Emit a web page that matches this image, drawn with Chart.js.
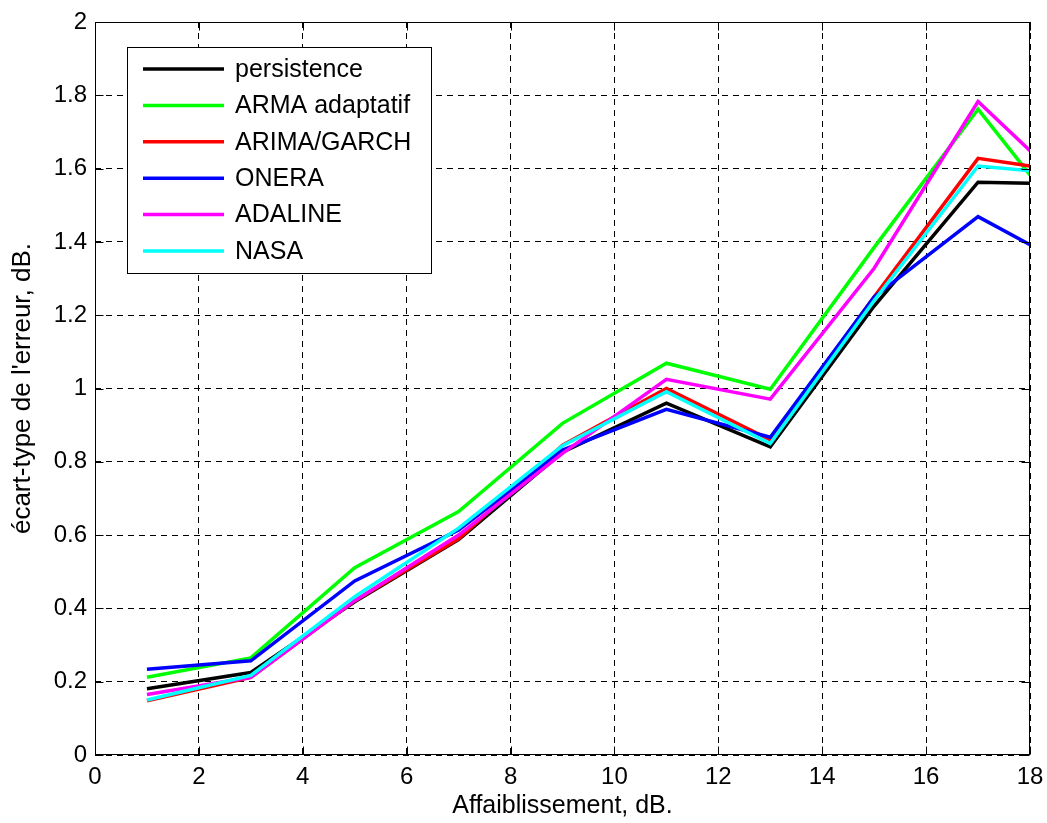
<!DOCTYPE html>
<html>
<head>
<meta charset="utf-8">
<script src="https://cdn.jsdelivr.net/npm/chart.js@4.4.0/dist/chart.umd.min.js"></script>
<style>
  html, body { margin: 0; padding: 0; background: #fff; }
  canvas { display: block; }
</style>
</head>
<body>
<canvas id="myChart" width="1047" height="823"></canvas>
<script>
// data
const xValues = [1, 3, 5, 7, 9, 11, 13, 15, 17, 18];
const persistence = [0.181, 0.225, 0.418, 0.588, 0.826, 0.960, 0.841, 1.225, 1.563, 1.560];
const armaAdaptatif = [0.212, 0.265, 0.511, 0.664, 0.905, 1.069, 0.998, 1.385, 1.762, 1.583];
const arimaGarch = [0.148, 0.212, 0.421, 0.590, 0.845, 1.000, 0.860, 1.250, 1.628, 1.607];
const onera = [0.234, 0.257, 0.475, 0.614, 0.832, 0.943, 0.867, 1.250, 1.469, 1.392];
const adaline = [0.165, 0.212, 0.421, 0.600, 0.823, 1.025, 0.971, 1.328, 1.783, 1.649];
const nasa = [0.150, 0.217, 0.432, 0.619, 0.844, 0.991, 0.850, 1.240, 1.607, 1.594];

const seriesNames = ["persistence", "ARMA adaptatif", "ARIMA/GARCH", "ONERA", "ADALINE", "NASA"];
const seriesData = [persistence, armaAdaptatif, arimaGarch, onera, adaline, nasa];
const lineColors = ["#000000", "#00ff00", "#ff0000", "#0000ff", "#ff00ff", "#00ffff"];

const xTicks = [0, 2, 4, 6, 8, 10, 12, 14, 16, 18];
const yTicks = [0, 0.2, 0.4, 0.6, 0.8, 1, 1.2, 1.4, 1.6, 1.8, 2];

const FONT = "'Liberation Sans', Arial, Helvetica, sans-serif";

// frame, inward ticks and the boxed legend (matlab style)
const matlabAxes = {
  id: 'matlabAxes',
  afterDatasetsDraw(chart) {
    const ctx = chart.ctx;
    const a = chart.chartArea;
    const xs = chart.scales.x, ys = chart.scales.y;
    const L = Math.round(a.left) + 0.5, R = Math.round(a.right) - 0.5;
    const T = Math.round(a.top) + 0.5, B = Math.round(a.bottom) - 0.5;
    ctx.save();
    ctx.strokeStyle = '#000';
    ctx.lineWidth = 1;
    ctx.setLineDash([]);
    ctx.strokeRect(L, T, R - L, B - T);

    const tl = 8;
    ctx.beginPath();
    xTicks.forEach(v => {
      const px = Math.round(xs.getPixelForValue(v)) + 0.5;
      ctx.moveTo(px, B); ctx.lineTo(px, B - tl);
      ctx.moveTo(px, T); ctx.lineTo(px, T + tl);
    });
    yTicks.forEach(v => {
      const py = Math.round(ys.getPixelForValue(v)) + 0.5;
      ctx.moveTo(L, py); ctx.lineTo(L + tl, py);
      ctx.moveTo(R, py); ctx.lineTo(R - tl, py);
    });
    ctx.stroke();

    // legend
    const bx = 127.5, by = 47.5, bw = 304, bh = 226;
    ctx.fillStyle = '#fff';
    ctx.fillRect(bx, by, bw, bh);
    ctx.strokeRect(bx, by, bw, bh);
    ctx.font = '25px ' + FONT;
    ctx.textBaseline = 'middle';
    ctx.textAlign = 'left';
    chart.data.datasets.forEach((ds, i) => {
      const y = 69 + i * 36.4;
      ctx.strokeStyle = ds.borderColor;
      ctx.lineWidth = 3.5;
      ctx.beginPath();
      ctx.moveTo(143, y); ctx.lineTo(224, y);
      ctx.stroke();
      ctx.fillStyle = '#000';
      ctx.fillText(ds.label, 235, y + 1);
    });
    ctx.restore();
  }
};

new Chart("myChart", {
  type: "line",
  data: {
    datasets: seriesNames.map((name, i) => ({
      label: name,
      data: xValues.map((x, j) => ({ x: x, y: seriesData[i][j] })),
      borderColor: lineColors[i],
      backgroundColor: lineColors[i],
      borderWidth: 3.5,
      borderJoinStyle: 'miter',
      pointRadius: 0,
      tension: 0,
      fill: false,
      order: seriesNames.length - i
    }))
  },
  options: {
    responsive: false,
    animation: false,
    devicePixelRatio: 1,
    layout: { padding: { top: 22, right: 17, left: 0, bottom: 0 } },
    plugins: {
      legend: { display: false },
      tooltip: { enabled: false }
    },
    scales: {
      x: {
        type: 'linear',
        min: 0,
        max: 18,
        afterBuildTicks: s => { s.ticks = xTicks.map(v => ({ value: v })); },
        afterFit: s => { s.height = 68; s.paddingLeft = 0; s.paddingRight = 0; },
        grid: { color: '#000', lineWidth: 1, drawTicks: false },
        border: { display: false, dash: [6, 5] },
        ticks: {
          color: '#000',
          padding: 8,
          maxRotation: 0,
          font: { family: FONT, size: 24 },
          callback: v => String(v)
        },
        title: {
          display: true,
          text: 'Affaiblissement, dB.',
          color: '#000',
          font: { family: FONT, size: 25 },
          padding: { top: 0, bottom: 2 }
        }
      },
      y: {
        type: 'linear',
        min: 0,
        max: 2,
        afterBuildTicks: s => { s.ticks = yTicks.map(v => ({ value: v })); },
        afterFit: s => { s.width = 95; s.paddingTop = 0; s.paddingBottom = 0; },
        grid: { color: '#000', lineWidth: 1, drawTicks: false },
        border: { display: false, dash: [6, 5] },
        ticks: {
          color: '#000',
          padding: 8,
          font: { family: FONT, size: 24 },
          callback: v => String(Number(v.toFixed(1)))
        },
        title: {
          display: true,
          text: "écart-type de l'erreur, dB.",
          color: '#000',
          font: { family: FONT, size: 26 },
          padding: { top: 7, bottom: 0 }
        }
      }
    }
  },
  plugins: [matlabAxes]
});
</script>
</body>
</html>
